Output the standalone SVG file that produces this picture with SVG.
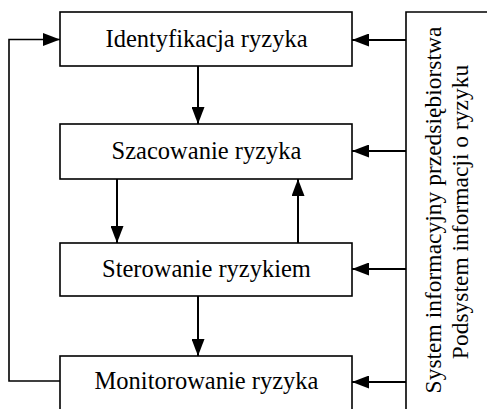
<svg xmlns="http://www.w3.org/2000/svg" width="487" height="409" viewBox="0 0 487 409">
<defs>
<marker id="ah" markerWidth="17" markerHeight="13" refX="17" refY="6.5" orient="auto" markerUnits="userSpaceOnUse">
<path d="M0,0 L17,6.5 L0,13 Z" fill="#000"/>
</marker>
<style>
.box{fill:#fff;stroke:#000;stroke-width:1.6}
.t{font-family:"Liberation Serif","Times New Roman",serif;font-size:24.5px;fill:#000;text-anchor:middle}
.v{font-family:"Liberation Serif","Times New Roman",serif;font-size:23.5px;fill:#000;text-anchor:middle}
.c{fill:none;stroke:#000;stroke-width:2}
.cn{fill:none;stroke:#000;stroke-width:1.6}
</style>
</defs>
<rect width="487" height="409" fill="#fff"/>
<g id="identyfikacja"><rect class="box" x="60" y="12" width="292" height="54"/><text class="t" x="206.5" y="47">Identyfikacja ryzyka</text></g>
<g id="szacowanie"><rect class="box" x="60" y="124" width="292" height="55"/><text class="t" x="206.5" y="159">Szacowanie ryzyka</text></g>
<g id="sterowanie"><rect class="box" x="60" y="243" width="292" height="53"/><text class="t" x="206.5" y="277">Sterowanie ryzykiem</text></g>
<g id="monitorowanie"><rect class="box" x="60" y="356" width="292" height="60"/><text class="t" x="206.5" y="389">Monitorowanie ryzyka</text></g>
<g id="system"><path class="cn" d="M406,420 V12 H490"/>
<text class="v" transform="translate(441,210) rotate(-90)">System informacyjny przedsiębiorstwa</text>
<text class="v" transform="translate(468,212) rotate(-90)">Podsystem informacji o ryzyku</text></g>
<g id="connectors">
<path class="c" d="M198,66 V124" marker-end="url(#ah)"/>
<path class="c" d="M117,179 V243" marker-end="url(#ah)"/>
<path class="c" d="M298,243 V179" marker-end="url(#ah)"/>
<path class="c" d="M198,296 V356" marker-end="url(#ah)"/>
<path class="cn" d="M60,381 H9 V39.5 H60" marker-end="url(#ah)"/>
<path class="c" d="M406,40 H352" marker-end="url(#ah)"/>
<path class="c" d="M406,151 H352" marker-end="url(#ah)"/>
<path class="c" d="M406,269 H352" marker-end="url(#ah)"/>
<path class="c" d="M406,382 H352" marker-end="url(#ah)"/>
</g>
</svg>
